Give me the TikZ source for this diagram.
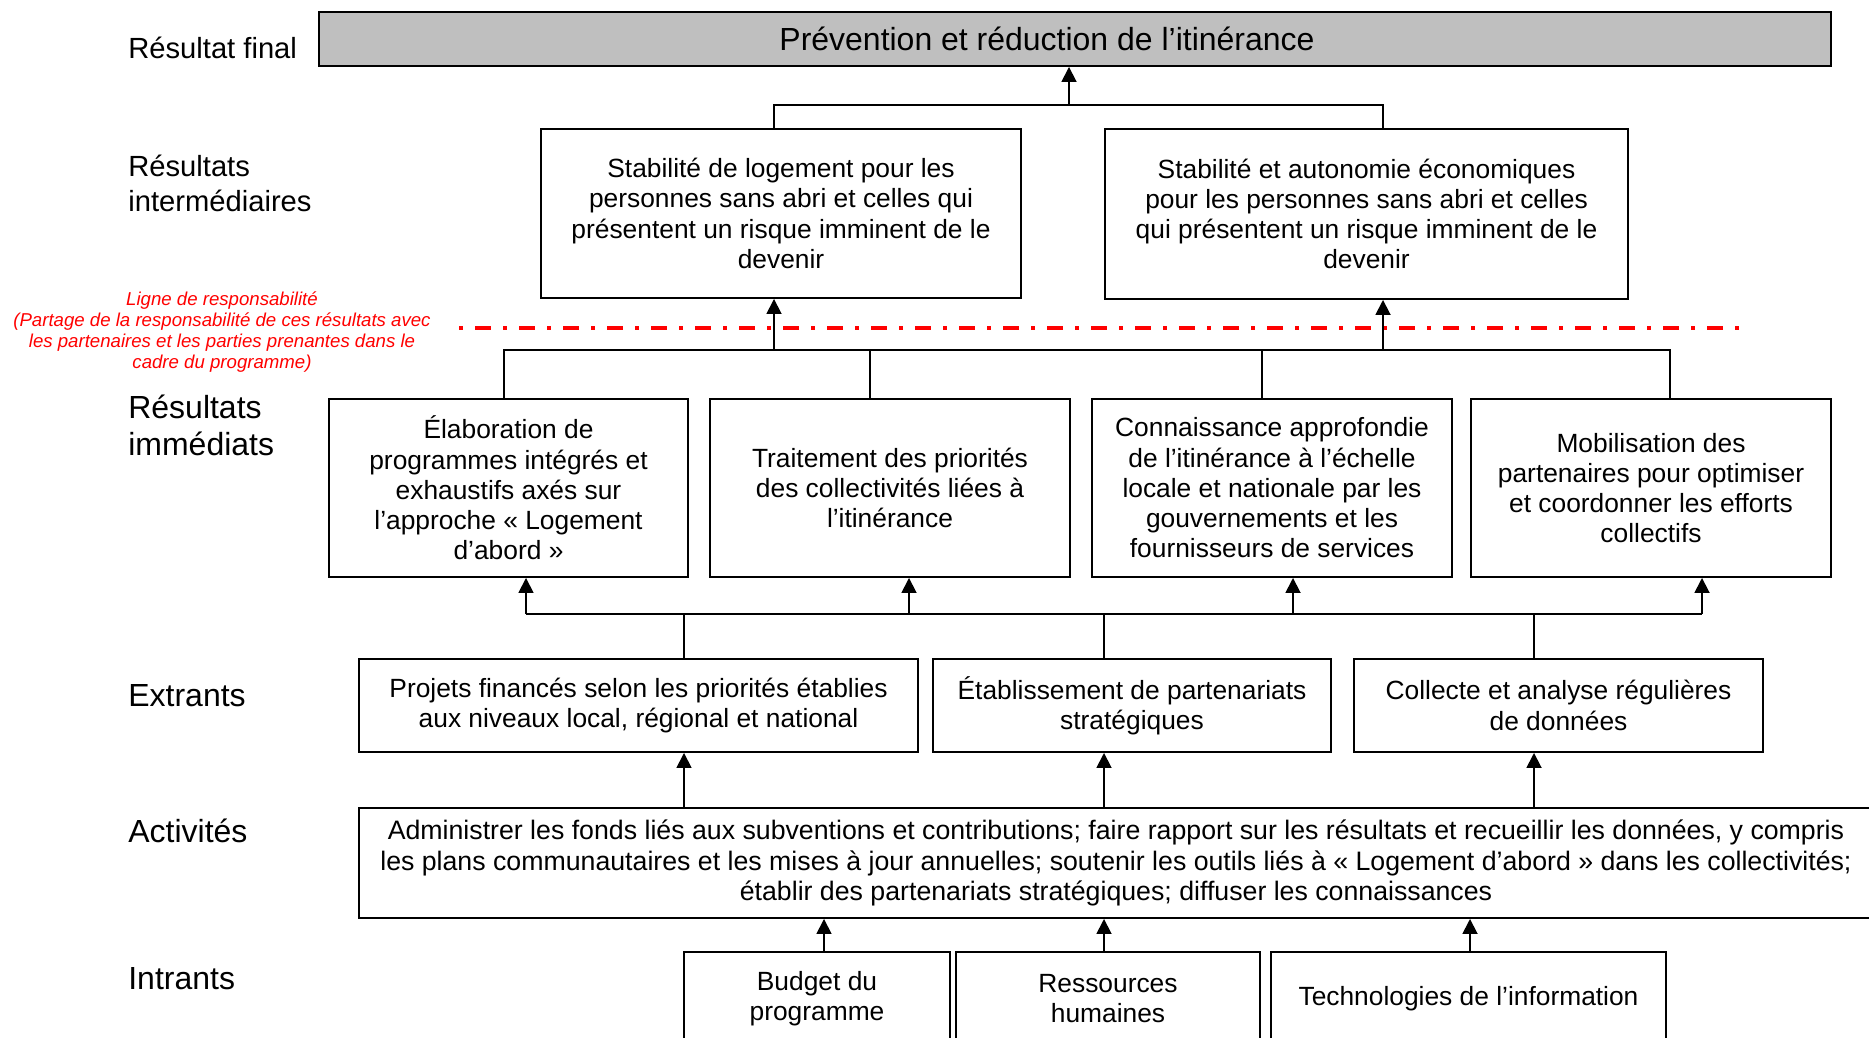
\documentclass[tikz,border=0pt]{standalone}
\usepackage{fontspec}
\setmainfont{Liberation Sans}
\usetikzlibrary{arrows.meta}

\tikzset{
	box/.style = {draw, line width = 1.1pt, align = center, inner sep = 0pt, font = \fontsize{15}{17.2}\selectfont},
	level/.style = {anchor = west, align = left, inner sep = 0pt, font = \fontsize{16.6}{19.5}\selectfont},
	biglevel/.style = {level, font = \fontsize{18.2}{20.8}\selectfont},
	link/.style = {line width = 1pt},
}

\begin{document}
\begin{tikzpicture}[>={Triangle[length = 0.3cm, width = 0.3cm]}]
	\useasboundingbox (0, 0) rectangle (37.38, 20.74);

	\node[level] (lfinal) at (2.56, 19.79) {Résultat final};
	\node[level] (linter) at (2.56, 17.07) {Résultats\\intermédiaires};
	\node[biglevel] (limm) at (2.56, 12.23) {Résultats\\immédiats};
	\node[biglevel] (lout) at (2.56, 6.82) {Extrants};
	\node[biglevel] (lact) at (2.56, 4.12) {Activités};
	\node[biglevel] (lin) at (2.56, 1.17) {Intrants};

	\node[box, fill = black!25, minimum width = 30.24cm, minimum height = 1.08cm, font = \fontsize{18.2}{21}\selectfont] (final) at (21.5, 19.96) {Prévention et réduction de l’itinérance\hspace*{1.12cm}};

	\node[box, minimum width = 9.6cm, minimum height = 3.38cm] (inter1) at (15.62, 16.47) {Stabilité de logement pour les\\personnes sans abri et celles qui\\présentent un risque imminent de le\\devenir};
	\node[box, minimum width = 10.46cm, minimum height = 3.4cm] (inter2) at (27.33, 16.46) {Stabilité et autonomie économiques\\pour les personnes sans abri et celles\\qui présentent un risque imminent de le\\devenir};

	\draw[red, line width = 2.3pt, dash pattern = on 0.08cm off 0.24cm on 0.32cm off 0.24cm] (9.18, 14.18) -- (34.8, 14.18);
	\node[red, align = center, font = \itshape\fontsize{10.6}{12.1}\selectfont] (resp) at (4.44, 14.1) {Ligne de responsabilité\\(Partage de la responsabilité de ces résultats avec\\les partenaires et les parties prenantes dans le\\cadre du programme)};

	\node[box, minimum width = 7.18cm, minimum height = 3.56cm] (imm1) at (10.17, 10.98) {Élaboration de\\programmes intégrés et\\exhaustifs axés sur\\l’approche « Logement\\d’abord »};
	\node[box, minimum width = 7.2cm, minimum height = 3.56cm] (imm2) at (17.8, 10.98) {Traitement des priorités\\des collectivités liées à\\l’itinérance};
	\node[box, minimum width = 7.2cm, minimum height = 3.56cm] (imm3) at (25.44, 10.98) {Connaissance approfondie\\de l’itinérance à l’échelle\\locale et nationale par les\\gouvernements et les\\fournisseurs de services};
	\node[box, minimum width = 7.2cm, minimum height = 3.56cm] (imm4) at (33.02, 10.98) {Mobilisation des\\partenaires pour optimiser\\et coordonner les efforts\\collectifs};

	\node[box, minimum width = 11.18cm, minimum height = 1.86cm] (out1) at (12.77, 6.63) {Projets financés selon les priorités établies\\aux niveaux local, régional et national};
	\node[box, minimum width = 7.96cm, minimum height = 1.86cm] (out2) at (22.64, 6.63) {Établissement de partenariats\\stratégiques};
	\node[box, minimum width = 8.18cm, minimum height = 1.86cm] (out3) at (31.17, 6.63) {Collecte et analyse régulières\\de données};

	\node[box, minimum width = 30.28cm, minimum height = 2.2cm, font = \fontsize{15.2}{17.4}\selectfont] (act) at (22.32, 3.48) {Administrer les fonds liés aux subventions et contributions; faire rapport sur les résultats et recueillir les données, y compris\\les plans communautaires et les mises à jour annuelles; soutenir les outils liés à « Logement d’abord » dans les collectivités;\\établir des partenariats stratégiques; diffuser les connaissances};

	\node[box, minimum width = 5.32cm, minimum height = 1.86cm] (in1) at (16.34, 0.77) {Budget du\\programme};
	\node[box, minimum width = 6.08cm, minimum height = 1.86cm] (in2) at (22.16, 0.77) {Ressources\\humaines};
	\node[box, minimum width = 7.9cm, minimum height = 1.86cm] (in3) at (29.37, 0.77) {Technologies de l’information};

	\coordinate (jA) at (21.38, 18.64);
	\coordinate (jA1) at (15.48, 18.64);
	\coordinate (jA2) at (27.66, 18.64);
	\draw[link] (inter1.north -| jA1) -- (jA1) -- (jA2) -- (inter2.north -| jA2);
	\draw[link, ->] (jA) -- (final.south -| jA);

	\coordinate (jB1) at (10.08, 13.74);
	\coordinate (jB2) at (17.4, 13.74);
	\coordinate (jB3) at (25.24, 13.74);
	\coordinate (jB4) at (33.4, 13.74);
	\draw[link] (imm1.north -| jB1) -- (jB1) -- (jB4) -- (imm4.north -| jB4);
	\draw[link] (jB2) -- (imm2.north -| jB2);
	\draw[link] (jB3) -- (imm3.north -| jB3);
	\draw[link, ->] (jA1 |- jB1) -- (inter1.south -| jA1);
	\draw[link, ->] (jA2 |- jB1) -- (inter2.south -| jA2);

	\coordinate (jC1) at (10.52, 8.46);
	\coordinate (jC2) at (18.18, 8.46);
	\coordinate (jC3) at (25.86, 8.46);
	\coordinate (jC4) at (34.04, 8.46);
	\coordinate (o1) at (13.68, 8.46);
	\coordinate (o2) at (22.08, 8.46);
	\coordinate (o3) at (30.68, 8.46);
	\draw[link] (jC1) -- (jC4);
	\draw[link, ->] (jC1) -- (imm1.south -| jC1);
	\draw[link, ->] (jC2) -- (imm2.south -| jC2);
	\draw[link, ->] (jC3) -- (imm3.south -| jC3);
	\draw[link, ->] (jC4) -- (imm4.south -| jC4);
	\draw[link] (o1) -- (out1.north -| o1);
	\draw[link] (o2) -- (out2.north -| o2);
	\draw[link] (o3) -- (out3.north -| o3);

	\draw[link, ->] (act.north -| o1) -- (out1.south -| o1);
	\draw[link, ->] (act.north -| o2) -- (out2.south -| o2);
	\draw[link, ->] (act.north -| o3) -- (out3.south -| o3);

	\draw[link, ->] (in1.north -| 16.48, 0) -- (act.south -| 16.48, 0);
	\draw[link, ->] (in2.north -| 22.08, 0) -- (act.south -| 22.08, 0);
	\draw[link, ->] (in3.north -| 29.4, 0) -- (act.south -| 29.4, 0);
\end{tikzpicture}
\end{document}
